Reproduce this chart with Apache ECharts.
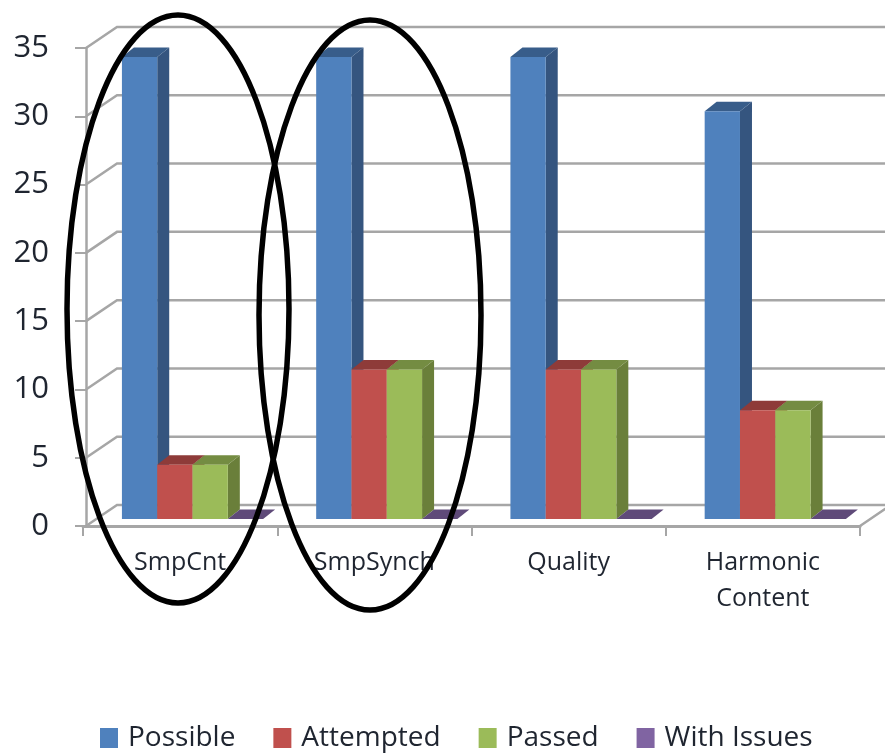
<!DOCTYPE html>
<html>
<head>
<meta charset="utf-8">
<style>
  html, body { margin: 0; background: #fff; }
  #chart { width: 885px; height: 755px; }
</style>
<script src="https://cdn.jsdelivr.net/npm/echarts@6/dist/echarts.min.js"></script>
</head>
<body>
<div id="chart"></div>
<script>
const categories = ['SmpCnt', 'SmpSynch', 'Quality', 'Harmonic\nContent']
const possible = [34, 34, 34, 30]
const attempted = [4, 11, 11, 8]
const passed = [4, 11, 11, 8]
const withIssues = [0, 0, 0, 0]
const yTicks = [0, 5, 10, 15, 20, 25, 30, 35]

const GRID_COLOR = '#a6a6a6'
const TEXT_COLOR = '#1f2530'
const FONT = '"Open Sans", sans-serif'

// fake 3D offsets, all in px
const WALL_DX = 31
const WALL_DY = -21
const BAR_DX = 12
const BAR_DY = -9.5
const BAR_W = 35.3
const BAR_LEFT = -58.2 // first bar relative to band centre
const BAR_BASE = -7 // bars stand a bit behind the front floor edge
const BAR_SCALE = 0.995

function renderWall (params, api) {
  const v = api.value(1)
  const cs = params.coordSys
  const y = api.coord([0, v])[1]
  const x0 = cs.x + 3
  const points = [[x0, y], [x0 + WALL_DX, y + WALL_DY], [cs.x + cs.width + WALL_DX, y + WALL_DY]]
  if (v === 0) points.push([cs.x + cs.width, y])
  return {
    type: 'polyline',
    shape: { points },
    style: { fill: null, stroke: GRID_COLOR, lineWidth: 2.5 }
  }
}

function bar3d (slot, front, side, top) {
  return function (params, api) {
    const p = api.coord([api.value(0), 0])
    const h = api.size([0, api.value(1)])[1] * BAR_SCALE
    const x = p[0] + BAR_LEFT + slot * BAR_W
    const base = p[1] + BAR_BASE
    const y = base - h
    const children = [
      {
        type: 'polygon',
        shape: { points: [[x + BAR_W, y], [x + BAR_W + BAR_DX, y + BAR_DY], [x + BAR_W + BAR_DX, base + BAR_DY], [x + BAR_W, base]] },
        style: { fill: side }
      },
      {
        type: 'polygon',
        shape: { points: [[x, y], [x + BAR_DX, y + BAR_DY], [x + BAR_W + BAR_DX, y + BAR_DY], [x + BAR_W, y]] },
        style: { fill: top }
      }
    ]
    if (h > 0) {
      children.push({ type: 'rect', shape: { x, y, width: BAR_W, height: h }, style: { fill: front } })
    }
    return { type: 'group', children }
  }
}

function barSeries (name, values, slot, front, side, top) {
  return {
    type: 'custom',
    name,
    itemStyle: { color: front },
    encode: { x: 0, y: 1 },
    data: values.map((v, i) => [i, v]),
    renderItem: bar3d(slot, front, side, top),
    z: 3
  }
}

const chart = echarts.init(document.getElementById('chart'))

chart.setOption({
  animation: false,
  backgroundColor: '#fff',
  grid: { left: 83, right: 25, top: 48, bottom: 229 },
  legend: {
    data: ['Possible', 'Attempted', 'Passed', 'With Issues'],
    left: 95,
    top: 719,
    icon: 'rect',
    itemWidth: 18,
    itemHeight: 20,
    itemGap: 38,
    textStyle: { color: TEXT_COLOR, fontFamily: FONT, fontSize: 28, padding: [0, 0, 0, 5] }
  },
  xAxis: {
    type: 'category',
    data: categories,
    axisLine: { lineStyle: { color: GRID_COLOR, width: 3 } },
    axisTick: { show: true, length: 10, lineStyle: { color: GRID_COLOR, width: 2 } },
    axisLabel: {
      interval: 0,
      margin: 19,
      color: TEXT_COLOR,
      fontFamily: FONT,
      fontSize: 25,
      lineHeight: 36
    }
  },
  yAxis: {
    type: 'value',
    min: 0,
    max: 35,
    interval: 5,
    offset: -3,
    axisLine: { show: true, lineStyle: { color: GRID_COLOR, width: 2.5 } },
    axisTick: { show: true, length: 11, lineStyle: { color: GRID_COLOR, width: 2 } },
    axisLabel: { margin: 37, color: TEXT_COLOR, fontFamily: FONT, fontSize: 31 },
    splitLine: { show: false }
  },
  series: [
    {
      type: 'custom',
      name: 'wall',
      encode: { y: 1 },
      data: yTicks.map(v => [0, v]),
      renderItem: renderWall,
      silent: true,
      z: 1
    },
    barSeries('Possible', possible, 0, '#4f81bd', '#35557f', '#385d8a'),
    barSeries('Attempted', attempted, 1, '#c0504d', '#8e3b39', '#8e3b39'),
    barSeries('Passed', passed, 2, '#9bbb59', '#6a7f3a', '#748c42'),
    barSeries('With Issues', withIssues, 3, '#8064a2', '#5f4a79', '#5f4a79')
  ],
  graphic: [
    { type: 'ellipse', z: 100, shape: { cx: 178, cy: 309, rx: 111, ry: 294 }, style: { fill: null, stroke: '#000', lineWidth: 5.5 } },
    { type: 'ellipse', z: 100, shape: { cx: 370, cy: 315, rx: 111, ry: 295 }, style: { fill: null, stroke: '#000', lineWidth: 5.5 } }
  ]
})
</script>
</body>
</html>
